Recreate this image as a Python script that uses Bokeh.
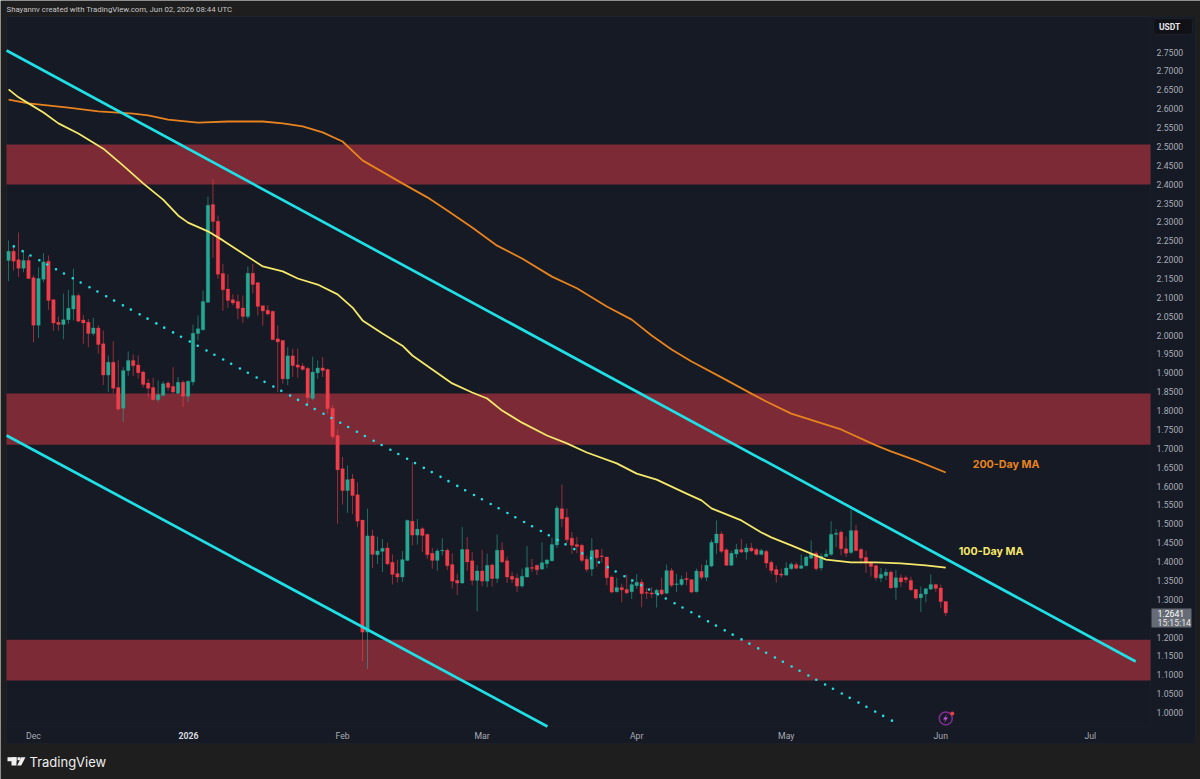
from bokeh.plotting import figure
from bokeh.embed import file_html
from bokeh.resources import INLINE
from bokeh.models import Range1d, FixedTicker, BoxAnnotation, Label, PolyAnnotation, ColumnDataSource
from bokeh.core.properties import value

FONT = "Inter"
SMALL = "Roboto"
# ---- daily candles, starting 5 days before 1 Dec (day 0) ----
opens = [2.198,2.222,2.200,2.177,2.198,2.152,2.026,2.148,2.196,2.094,2.034,2.028,2.041,2.069,2.105,2.040,2.034,2.004,2.019,1.977,
1.894,1.928,1.861,1.806,1.906,1.933,1.921,1.902,1.873,1.861,1.829,1.840,1.873,1.864,1.846,1.875,1.838,1.876,2.004,2.014,
2.087,2.346,2.302,2.163,2.122,2.094,2.089,2.072,2.049,2.164,2.139,2.078,2.066,2.063,1.990,1.986,1.884,1.945,1.921,1.918,
1.912,1.832,1.900,1.913,1.909,1.806,1.734,1.646,1.588,1.619,1.577,1.510,1.213,1.468,1.418,1.427,1.436,1.398,1.368,1.359,
1.403,1.507,1.470,1.487,1.472,1.422,1.403,1.428,1.430,1.392,1.350,1.343,1.432,1.402,1.350,1.375,1.348,1.391,1.355,1.430,
1.402,1.361,1.356,1.335,1.359,1.384,1.390,1.380,1.394,1.402,1.444,1.540,1.517,1.462,1.445,1.443,1.406,1.380,1.431,1.415,
1.412,1.359,1.320,1.331,1.326,1.320,1.336,1.345,1.318,1.317,1.314,1.325,1.316,1.376,1.339,1.339,1.355,1.352,1.320,1.374,
1.358,1.388,1.449,1.473,1.431,1.390,1.420,1.432,1.425,1.436,1.432,1.419,1.427,1.398,1.379,1.367,1.364,1.381,1.392,1.382,
1.389,1.409,1.422,1.383,1.413,1.419,1.472,1.478,1.434,1.424,1.482,1.432,1.411,1.398,1.389,1.356,1.363,1.372,1.331,1.357,
1.357,1.350,1.326,1.304,1.314,1.327,1.339,1.330,1.294]
highs = [2.251,2.237,2.272,2.224,2.211,2.158,2.180,2.217,2.211,2.096,2.049,2.110,2.120,2.176,2.110,2.054,2.043,2.046,2.026,2.012,
1.946,1.984,1.933,1.915,1.957,1.949,1.946,1.906,1.884,1.887,1.880,1.878,1.878,1.915,1.889,1.880,1.880,2.028,2.052,2.118,
2.367,2.414,2.317,2.189,2.161,2.108,2.108,2.105,2.182,2.189,2.141,2.078,2.079,2.065,2.026,1.986,1.968,1.964,1.964,1.926,
1.915,1.943,1.933,1.942,1.911,1.815,1.750,1.677,1.655,1.632,1.610,1.510,1.540,1.484,1.466,1.460,1.450,1.419,1.405,1.428,
1.511,1.663,1.513,1.491,1.474,1.436,1.434,1.462,1.434,1.422,1.368,1.491,1.465,1.425,1.390,1.431,1.421,1.394,1.472,1.451,
1.413,1.372,1.368,1.381,1.441,1.407,1.392,1.451,1.407,1.463,1.548,1.604,1.540,1.478,1.465,1.447,1.416,1.462,1.433,1.434,
1.413,1.363,1.357,1.341,1.366,1.354,1.367,1.354,1.330,1.332,1.328,1.357,1.392,1.383,1.367,1.363,1.372,1.354,1.381,1.392,
1.405,1.458,1.509,1.480,1.436,1.429,1.447,1.460,1.447,1.449,1.436,1.434,1.431,1.403,1.389,1.381,1.398,1.398,1.398,1.419,
1.416,1.456,1.427,1.422,1.431,1.507,1.486,1.482,1.466,1.537,1.498,1.436,1.429,1.401,1.392,1.383,1.381,1.376,1.378,1.366,
1.363,1.360,1.328,1.334,1.330,1.366,1.341,1.339,1.295]
lows = [2.143,2.171,2.154,2.167,2.148,1.981,1.993,2.140,2.067,2.011,2.012,1.989,2.030,2.039,2.034,1.977,1.968,1.999,1.951,1.868,
1.849,1.846,1.800,1.770,1.892,1.891,1.884,1.861,1.836,1.827,1.823,1.838,1.852,1.845,1.843,1.809,1.823,1.867,1.986,2.012,
2.085,2.205,2.149,2.064,2.072,2.079,2.042,2.032,2.043,2.110,2.052,2.025,2.052,1.986,1.849,1.871,1.867,1.889,1.887,1.906,
1.814,1.827,1.884,1.889,1.792,1.725,1.500,1.551,1.529,1.526,1.491,1.136,1.115,1.383,1.394,1.372,1.390,1.339,1.344,1.346,
1.401,1.443,1.445,1.425,1.407,1.381,1.376,1.416,1.378,1.328,1.311,1.341,1.376,1.337,1.268,1.334,1.332,1.334,1.343,1.396,
1.343,1.343,1.319,1.331,1.357,1.372,1.364,1.378,1.382,1.400,1.436,1.491,1.449,1.420,1.422,1.398,1.372,1.361,1.385,1.398,
1.337,1.316,1.318,1.292,1.313,1.301,1.328,1.279,1.301,1.304,1.278,1.310,1.314,1.332,1.319,1.335,1.337,1.316,1.318,1.352,
1.348,1.385,1.420,1.422,1.388,1.388,1.410,1.423,1.405,1.425,1.416,1.416,1.382,1.367,1.344,1.357,1.362,1.378,1.380,1.381,
1.387,1.406,1.376,1.376,1.412,1.415,1.438,1.416,1.412,1.420,1.427,1.394,1.370,1.360,1.350,1.345,1.351,1.328,1.299,1.332,
1.343,1.323,1.299,1.266,1.292,1.325,1.319,1.277,1.256]
closes = [2.222,2.196,2.177,2.198,2.150,2.026,2.150,2.194,2.092,2.032,2.028,2.041,2.071,2.105,2.037,2.032,2.004,2.019,1.975,1.894,
1.928,1.859,1.804,1.906,1.933,1.919,1.900,1.869,1.859,1.829,1.842,1.871,1.861,1.849,1.875,1.838,1.878,2.005,2.017,2.089,
2.344,2.301,2.161,2.120,2.092,2.085,2.071,2.049,2.164,2.134,2.076,2.064,2.056,1.988,1.982,1.884,1.945,1.919,1.915,1.909,
1.834,1.902,1.913,1.906,1.805,1.731,1.643,1.588,1.617,1.575,1.507,1.213,1.468,1.419,1.428,1.435,1.394,1.366,1.359,1.405,
1.509,1.470,1.486,1.469,1.418,1.403,1.428,1.430,1.389,1.348,1.343,1.432,1.399,1.350,1.375,1.348,1.390,1.355,1.430,1.399,
1.359,1.353,1.335,1.361,1.384,1.382,1.378,1.397,1.404,1.445,1.542,1.513,1.458,1.443,1.440,1.403,1.379,1.429,1.410,1.413,
1.357,1.319,1.331,1.325,1.317,1.339,1.345,1.315,1.316,1.314,1.324,1.314,1.376,1.337,1.341,1.353,1.352,1.319,1.375,1.358,
1.390,1.451,1.473,1.427,1.390,1.422,1.432,1.425,1.436,1.428,1.419,1.429,1.396,1.376,1.365,1.364,1.383,1.393,1.382,1.389,
1.412,1.420,1.381,1.414,1.420,1.472,1.475,1.434,1.422,1.482,1.429,1.409,1.396,1.387,1.357,1.366,1.372,1.330,1.357,1.346,
1.352,1.325,1.303,1.314,1.328,1.339,1.329,1.294,1.264]

# ---- moving averages (day, price) ----
ma100_days = [-5,-3,-1,2,5,9,14,18,22,26,29,31,35,38,42,46,50,53,57,61,64,66,70,74,76,80,84,88,91,94,98,103,107,111,117,121,125,131,134,136,142,146,148,152,156,159,164,169,174,179,183]
ma100_vals = [2.651,2.630,2.614,2.590,2.561,2.534,2.494,2.449,2.402,2.359,2.317,2.298,2.275,2.251,2.216,2.182,2.169,2.150,2.134,2.108,2.073,2.039,2.004,1.972,1.946,1.909,1.872,1.848,1.832,1.800,1.768,1.734,1.713,1.689,1.660,1.633,1.617,1.580,1.562,1.541,1.509,1.477,1.464,1.443,1.421,1.405,1.398,1.398,1.395,1.390,1.384]
ma200_days = [-5,-1,7,13,20,23,27,33,39,46,50,54,58,62,66,74,79,83,88,93,98,104,109,115,120,124,128,132,138,144,147,152,162,169,172,177,183]
ma200_vals = [2.624,2.614,2.603,2.593,2.587,2.582,2.571,2.563,2.566,2.566,2.561,2.553,2.537,2.513,2.463,2.402,2.365,2.330,2.285,2.237,2.203,2.155,2.124,2.076,2.041,1.999,1.962,1.930,1.888,1.845,1.824,1.792,1.750,1.708,1.692,1.668,1.636]

# ---- trend lines (day, price) ----
upper_days = [-5.4, 221.1]; upper_vals = [2.754, 1.135]
lower_days = [-5.4, 103.1]; lower_vals = [1.734, 0.963]
mid_days = [-3.95, 172.9]; mid_vals = [2.235, 0.9735]

# ---- zones ----
zone_top = [2.505, 1.845, 1.193]
zone_bottom = [2.399, 1.7096, 1.085]

price_ticks = [round(1.0 + 0.05 * i, 2) for i in range(36)]
month_days = [0, 31, 62, 90, 121, 151, 182, 212]
month_names = ["Dec", "2026", "Feb", "Mar", "Apr", "May", "Jun", "Jul"]

OUTER = "#1e1e1e"; PANE = "#151a24"; LINE = "#252933"
GREEN = "#26a893"; RED = "#ef3d4a"; CYAN = "#1fe0e6"; TEXT = "#a9acb5"

# The frame fills the whole page: annotations are clipped to it, so all the chrome lives inside.
p = figure(frame_width=1200, frame_height=779, output_backend="svg", toolbar_location=None,
           x_range=Range1d(-6.62, 234.1), y_range=Range1d(0.8225, 2.8866),
           y_axis_location="right", min_border=0)
p.background_fill_color = OUTER
p.border_fill_color = OUTER
p.outline_line_color = None
p.grid.visible = False

def box(l, t, r, b, fill=None, line=None, **kw):
    p.add_layout(BoxAnnotation(left=l, right=r, top=t, bottom=b, left_units="canvas", right_units="canvas",
                               top_units="canvas", bottom_units="canvas", fill_color=fill, fill_alpha=1 if fill else 0,
                               line_color=line, **kw))

def label(x, y, text, color=TEXT, size="8.7px", style="normal", align="left", font=SMALL):
    p.add_layout(Label(x=x, y=y, x_units="canvas", y_units="canvas", text=text, text_color=color,
                       text_font=font, text_font_size=size, text_font_style=style, text_align=align,
                       text_baseline="middle"))

box(6, 16, 1195, 743, PANE, LINE, level="underlay")
box(6, 16, 1150, 726, None, LINE, level="underlay")

p.yaxis.ticker = FixedTicker(ticks=price_ticks)
p.yaxis.major_label_overrides = {t: f"{t:.4f}" for t in price_ticks}
p.xaxis.ticker = FixedTicker(ticks=month_days)
p.xaxis.major_label_overrides = {d: ("" if n == "2026" else n) for d, n in zip(month_days, month_names)}
for ax in (p.xaxis[0], p.yaxis[0]):
    ax.axis_line_color = None
    ax.major_tick_line_color = None
    ax.minor_tick_line_color = None
    ax.major_tick_in = 0
    ax.major_tick_out = 0
    ax.minor_tick_in = 0
    ax.minor_tick_out = 0
    ax.major_label_text_color = TEXT
    ax.major_label_text_font = SMALL
    ax.major_label_text_font_size = "8.7px"
p.yaxis[0].major_label_standoff = -44
p.xaxis[0].major_label_standoff = -49

x_left, x_right = -5.42, 224.07
p.hbar(y=[(a + b) / 2 for a, b in zip(zone_top, zone_bottom)], height=[a - b for a, b in zip(zone_top, zone_bottom)],
       left=x_left, right=x_right, color="#7c2b36", line_color=None)

days = list(range(-5, -5 + len(closes)))
up = [c >= o for o, c in zip(opens, closes)]
cs = ColumnDataSource(dict(x=days, top=[max(o, c) for o, c in zip(opens, closes)],
                           bottom=[min(o, c) for o, c in zip(opens, closes)],
                           high=highs, low=lows, color=[GREEN if u else RED for u in up]))
p.segment(x0="x", x1="x", y0="low", y1="high", color="color", line_width=1, line_alpha=0.6, source=cs)
p.vbar(x="x", top="top", bottom="bottom", width=0.7, fill_color="color", line_color="color", line_width=0.3, source=cs)

p.line(ma200_days, ma200_vals, color="#e8821e", line_width=1.8, line_join="round")
p.line(ma100_days, ma100_vals, color="#f5e76a", line_width=1.8, line_join="round")
p.line(upper_days, upper_vals, color=CYAN, line_width=2.7)
p.line(lower_days, lower_vals, color=CYAN, line_width=2.7)
p.line(mid_days, mid_vals, color=CYAN, line_width=2.6, line_dash="0 10 0 9", line_cap="round")

p.text(x=[188.4], y=[1.657], text=["200-Day MA"], text_color="#e8821e", text_font=value(FONT), text_font_style="bold",
       text_font_size="10.7px", text_baseline="middle")
p.text(x=[185.6], y=[1.427], text=["100-Day MA"], text_color="#f5e76a", text_font=value(FONT), text_font_style="bold",
       text_font_size="10.7px", text_baseline="middle")

# replay/lightning badge
p.scatter(x=[183], y=[0.9842], size=13, marker="circle", fill_color="#1a1a28", line_color="#7f2f92", line_width=1.5)
p.scatter(x=[184.3], y=[0.9975], size=4, marker="circle", fill_color="#e8403c", line_color=None)
p.add_layout(PolyAnnotation(xs=[946.5, 942.5, 945, 943.5, 947.5, 945], ys=[713.5, 719, 719, 722.5, 717, 717],
                            xs_units="canvas", ys_units="canvas", fill_color="#c050e0", fill_alpha=1, line_color=None))

label(6, 9, "Shayannv created with TradingView.com, Jun 02, 2026 08:44 UTC", "#c4c4c4", "7.8px")
label(188, 735, "2026", "#d6d8de", "8.7px", "bold", "center")

# USDT badge
box(1153, 18, 1192, 34, "#101218", "#33363f", border_radius=3)
label(1158.5, 26, "USDT", "#e4e5e8", "8.5px", "bold")

# last price tag
box(1151, 608, 1191, 627, "#666b75")
label(1157, 613, "1.2641", "#ffffff", "8.7px")
label(1157, 622, "15:15:14", "#e8e8e8", "8.7px")

# TradingView logo
for xs, ys in [([7, 16, 16, 7], [756.7, 756.7, 760.7, 760.7]),
               ([11, 16, 16, 11], [756.7, 756.7, 765, 765]),
               ([20.7, 25, 20.7, 16.7], [756.7, 756.7, 765, 765])]:
    p.add_layout(PolyAnnotation(xs=xs, ys=ys, xs_units="canvas", ys_units="canvas",
                                fill_color="#f0f0f0", fill_alpha=1, line_color=None))
box(17, 756.7, 20, 759.7, "#f0f0f0")
label(29, 761, "TradingView", "#eeeeee", "13px", "normal", "left", FONT)

open("out.html", "w").write(file_html(p, INLINE))
